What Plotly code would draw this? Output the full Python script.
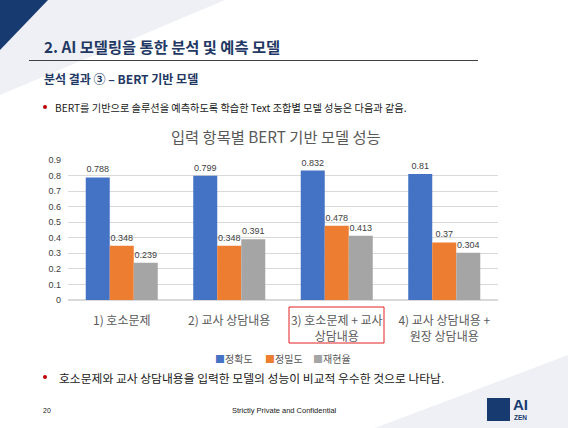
import plotly.graph_objects as go

categories = ["1) 호소문제", "2) 교사 상담내용", "3) 호소문제 + 교사<br>상담내용", "4) 교사 상담내용 +<br>원장 상담내용"]
series_names = ["정확도", "정밀도", "재현율"]
accuracy = [0.788, 0.799, 0.832, 0.81]
precision = [0.348, 0.348, 0.478, 0.37]
recall = [0.239, 0.391, 0.413, 0.304]
y_ticks = [0, 0.1, 0.2, 0.3, 0.4, 0.5, 0.6, 0.7, 0.8, 0.9]

W, H = 568, 428
L, R, T, B = 68, 498, 160, 300  # plot area in pixels


def px(x):
    return (x - L) / (R - L)


def py(y):
    return (B - y) / (B - T)


KR = "Noto Sans CJK KR"
colors = ["#4472C4", "#ED7D31", "#A5A5A5"]
fig = go.Figure()
for name, vals, c in zip(series_names, [accuracy, precision, recall], colors):
    fig.add_trace(go.Bar(
        x=categories, y=vals, name=name, marker=dict(color=c, line=dict(width=0)),
        text=[str(v) for v in vals], textposition="outside",
        textfont=dict(size=9, color="#404040", family="Liberation Sans"),
        cliponaxis=False, showlegend=False,
    ))

shapes = [
    dict(type="path", xref="paper", yref="paper",
         path=f"M {px(0)},{py(0)} L {px(225)},{py(0)} L {px(0)},{py(95)} Z",
         fillcolor="#EFF0F5", line=dict(width=0), layer="below"),
    dict(type="path", xref="paper", yref="paper",
         path=f"M {px(0)},{py(0)} L {px(48)},{py(0)} L {px(0)},{py(50)} Z",
         fillcolor="#173B70", line=dict(width=0), layer="below"),
    dict(type="path", xref="paper", yref="paper",
         path=f"M {px(568)},{py(355)} L {px(568)},{py(428)} L {px(375)},{py(428)} Z",
         fillcolor="#EFF0F5", line=dict(width=0), layer="below"),
    dict(type="line", xref="paper", yref="paper", x0=px(29), x1=px(478), y0=py(60.5), y1=py(60.5),
         line=dict(color="#404040", width=1)),
    dict(type="circle", xref="paper", yref="paper", x0=px(43), x1=px(47), y0=py(105), y1=py(109),
         fillcolor="#C00000", line=dict(width=0)),
    dict(type="circle", xref="paper", yref="paper", x0=px(43), x1=px(47), y0=py(375), y1=py(379),
         fillcolor="#C00000", line=dict(width=0)),
    dict(type="rect", xref="paper", yref="paper", x0=px(289), x1=px(384), y0=py(307), y1=py(343),
         line=dict(color="#E02020", width=1)),
    dict(type="rect", xref="paper", yref="paper", x0=px(487), x1=px(510), y0=py(398), y1=py(421),
         fillcolor="#173B70", line=dict(width=0)),
]

ann = [
    dict(x=px(42), y=py(46), text="<b>2. AI 모델링을 통한 분석 및 예측 모델</b>", xanchor="left", yanchor="middle",
         font=dict(size=15.3, color="#1F3864", family=KR)),
    dict(x=px(42), y=py(78), text="<b>분석 결과 ③ – BERT 기반 모델</b>", xanchor="left", yanchor="middle",
         font=dict(size=12, color="#1F3864", family=KR)),
    dict(x=px(53), y=py(107), text="BERT를 기반으로 솔루션을 예측하도록 학습한 Text 조합별 모델 성능은 다음과 같음.",
         xanchor="left", yanchor="middle", font=dict(size=10.2, color="#202020", family=KR)),
    dict(x=px(276), y=py(136), text="입력 항목별 BERT 기반 모델 성능", xanchor="center", yanchor="middle",
         font=dict(size=15.3, color="#595959", family=KR)),
    dict(x=px(57), y=py(377), text="호소문제와 교사 상담내용을 입력한 모델의 성능이 비교적 우수한 것으로 나타남.",
         xanchor="left", yanchor="middle", font=dict(size=11.8, color="#202020", family=KR)),
    dict(x=px(41), y=py(410), text="20", xanchor="left", yanchor="middle",
         font=dict(size=7, color="#202020", family="Liberation Sans")),
    dict(x=px(284), y=py(410), text="Strictly Private and Confidential", xanchor="center", yanchor="middle",
         font=dict(size=7.5, color="#202020", family="Liberation Sans")),
    dict(x=px(520), y=py(404), text="<b>AI</b>", xanchor="center", yanchor="middle",
         font=dict(size=15, color="#173B70", family="Liberation Sans")),
    dict(x=px(520), y=py(417), text="<b>ZEN</b>", xanchor="center", yanchor="middle",
         font=dict(size=6.5, color="#173B70", family="Liberation Sans")),
]
# legend items as separate text entries
legend_x = [213, 263, 311]
for n, c, lx in zip(series_names, colors, legend_x):
    ann.append(dict(x=px(lx), y=py(358), text=f"<span style='color:{c}'>■</span>{n}",
                    xanchor="left", yanchor="middle", font=dict(size=10, color="#595959", family=KR)))

for a in ann:
    a.update(xref="paper", yref="paper", showarrow=False)

fig.update_layout(
    width=W, height=H,
    margin=dict(l=L, r=W - R, t=T, b=H - B),
    paper_bgcolor="white", plot_bgcolor="white",
    barmode="group", bargap=0.33, bargroupgap=0,
    shapes=shapes, annotations=ann,
    showlegend=False,
    xaxis=dict(showgrid=False, showline=False, ticks="", ticklabelstandoff=12,
               tickfont=dict(size=12, color="#595959", family=KR)),
    yaxis=dict(range=[0, 0.9], tickvals=y_ticks, ticktext=[f"{v:g}" for v in y_ticks],
               showgrid=True, gridcolor="#D9D9D9", gridwidth=1, zeroline=True, zerolinecolor="#D9D9D9",
               showline=False, tickfont=dict(size=9, color="#404040", family="Liberation Sans"),
               ticks="", ticklabelstandoff=6),
)
fig.write_html("out.html")
